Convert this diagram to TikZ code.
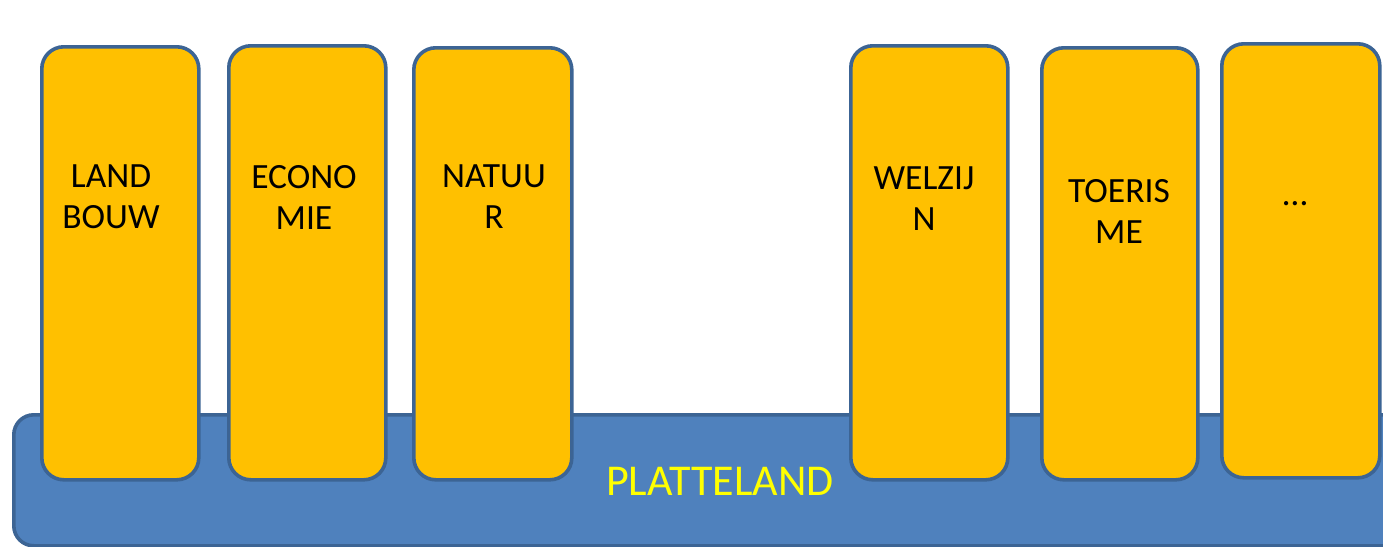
\documentclass[tikz,border=0pt]{standalone}
\usepackage{fontspec}
\setmainfont{Carlito}
\definecolor{pillarfill}{HTML}{FFC000}
\definecolor{edgeblue}{HTML}{3C6494}
\definecolor{basefill}{HTML}{4F81BD}
\definecolor{labelyellow}{HTML}{FFFF00}
\begin{document}
\begin{tikzpicture}[x=1pt,y=-1pt,
  pillarbox/.style={draw=edgeblue,line width=3.6pt,fill=pillarfill,rounded corners=22pt,
    inner sep=0pt,anchor=north west},
  platformbox/.style={draw=edgeblue,line width=3.6pt,fill=basefill,rounded corners=20pt,
    inner sep=0pt,anchor=north west},
  pillartext/.style={font=\fontsize{35.5}{41}\selectfont,align=center,text=black,inner sep=0pt},
  platformtext/.style={font=\fontsize{44}{50}\selectfont,text=labelyellow,inner sep=0pt}]
\useasboundingbox (0,0) rectangle (1383,546);
\clip (0,0) rectangle (1383,546);
\node[platformbox,minimum width=1420pt,minimum height=131pt] (plat) at (12,413) {};
\node[pillarbox,minimum width=157pt,minimum height=433pt] (p1) at (40,45) {};
\node[pillarbox,minimum width=157pt,minimum height=434pt] (p2) at (227,44) {};
\node[pillarbox,minimum width=158pt,minimum height=432pt] (p3) at (412,46) {};
\node[pillarbox,minimum width=157pt,minimum height=434pt] (p4) at (849,44) {};
\node[pillarbox,minimum width=156pt,minimum height=432pt] (p5) at (1040,46) {};
\node[pillarbox,minimum width=158pt,minimum height=434pt] (p6) at (1220,42) {};
\node[pillartext] (t1) at (111,197) {LAND\\BOUW};
\node[pillartext] (t2) at (304,197) {ECONO\\MIE};
\node[pillartext] (t3) at (494,197) {NATUU\\R};
\node[pillartext] (t4) at (924,199) {WELZIJ\\N};
\node[pillartext] (t5) at (1119,211) {TOERIS\\ME};
\node[pillartext,anchor=base] (t6) at (1295,205) {…};
\node[platformtext] (pl) at (720,481) {PLATTELAND};
\end{tikzpicture}
\end{document}
